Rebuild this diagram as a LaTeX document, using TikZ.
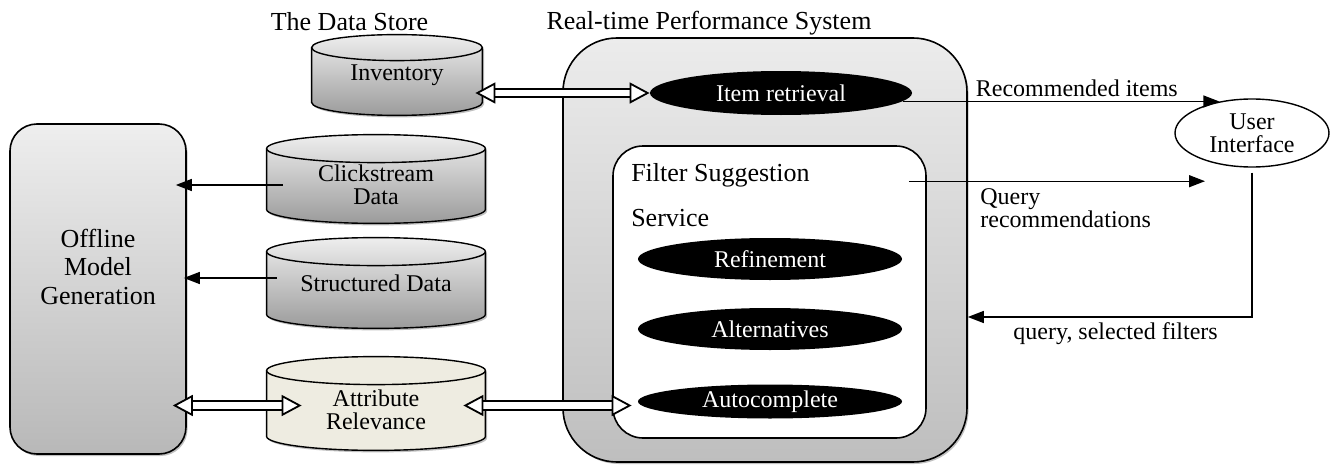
\documentclass[tikz,border=0pt]{standalone}
\usepackage{fontspec}
\setmainfont{Liberation Serif}
\usetikzlibrary{shapes.geometric,arrows.meta,positioning,calc,shadows,backgrounds}

\definecolor{storetop}{RGB}{238, 238, 238}
\definecolor{storebottom}{RGB}{155, 155, 155}
\definecolor{offlinetop}{RGB}{238, 238, 238}
\definecolor{offlinebottom}{RGB}{184, 184, 184}
\definecolor{systemtop}{RGB}{236, 236, 236}
\definecolor{systembottom}{RGB}{190, 190, 190}
\definecolor{relevancecolor}{RGB}{238, 236, 225}
\definecolor{shadowcolor}{RGB}{150, 150, 150}

\tikzset{
basetext/.style={
  font=\fontsize{12}{11.5}\selectfont,
  align=center
},
titletext/.style={
  font=\fontsize{13}{14.25}\selectfont,
  align=center
},
softshadow/.style={
  drop shadow={shadow xshift=0.8pt, shadow yshift=-1pt, fill=shadowcolor, opacity=0.6}
}
}

% contorno do cilindro em volta do corpo (#1 = nó, #2 = estilo, #3 = raio y)
\newcommand{\storeoutline}[3]{%
  \draw[#2] let \p1 = ($(#1.north east)-(#1.north west)$) in
    (#1.north west) -- (#1.south west)
    arc[start angle=180, end angle=360, x radius=0.5*\x1, y radius=#3]
    -- (#1.north east)
    arc[start angle=0, end angle=180, x radius=0.5*\x1, y radius=#3] -- cycle;
  \draw[line width=0.7pt] let \p1 = ($(#1.north east)-(#1.north west)$) in
    (#1.north west) arc[start angle=180, end angle=360, x radius=0.5*\x1, y radius=#3];
}

\begin{document}
\begin{tikzpicture}[
    x=0.5pt, y=-0.5pt,
    % Estilos dos blocos
    storebody/.style={
        rectangle,
        minimum width=109pt,
        minimum height=30pt,
        inner sep=0pt,
        basetext,
    },
    storeshade/.style={line width=0.7pt, top color=storetop, bottom color=storebottom, softshadow},
    relevanceshade/.style={line width=0.7pt, fill=relevancecolor, softshadow},
    serviceblock/.style={
        ellipse,
        fill=black,
        text=white,
        minimum width=132pt,
        minimum height=21pt,
        inner sep=0pt,
        basetext,
    },
    offlineblock/.style={
        draw, line width=0.8pt, rounded corners=13.5pt,
        top color=offlinetop, bottom color=offlinebottom,
        minimum width=88pt, minimum height=165pt, softshadow
    },
    systemblock/.style={
        draw, line width=0.8pt, rounded corners=27pt,
        top color=systemtop, bottom color=systembottom,
        minimum width=202pt, minimum height=212pt, softshadow
    },
    filterblock/.style={
        draw, line width=0.8pt, rounded corners=15pt, fill=white,
        minimum width=156.5pt, minimum height=146pt
    },
    uiblock/.style={ellipse, draw, line width=0.7pt, fill=white,
        minimum width=77pt, minimum height=34pt, inner sep=0pt, basetext},
    % Estilos das setas
    arrow/.style={-{Triangle[length=8pt, width=6pt]}, line width=0.7pt},
    dblarrow/.style={
        {Triangle[length=10pt, width=10.5pt, fill=white]}-{Triangle[length=10pt, width=10.5pt, fill=white]},
        double=white, double distance=3.4pt, line width=0.9pt
    },
]
\useasboundingbox (0,0) rectangle (1330,466);

% ============================================================================
% OFFLINE
% ============================================================================
\node[offlineblock] (offline) at (98,289) {};
\node[titletext, anchor=base] (offlinetext) at (98,304) {Offline\\Model\\Generation};

% ============================================================================
% DATA STORE
% ============================================================================
\node[storebody, minimum width=85pt, minimum height=27pt] (inventory) at (397,75) {Inventory};
\node[titletext, anchor=base] (storetitle) at (349.5,31) {The Data Store};
\node[storebody, text height=26pt] (click) at (376,179) {Clickstream\\Data};
\node[storebody, minimum height=31pt] (struct) at (376,283) {Structured Data};
\node[storebody, text height=26.5pt, minimum height=32.5pt] (attr) at (376,403.5) {Attribute\\Relevance};

\begin{scope}[on background layer]
  \storeoutline{inventory}{storeshade}{6.5pt}
  \storeoutline{click}{storeshade}{7pt}
  \storeoutline{struct}{storeshade}{7pt}
  \storeoutline{attr}{relevanceshade}{7pt}
\end{scope}

% ============================================================================
% REAL-TIME SYSTEM
% ============================================================================
\node[systemblock] (system) at (765,250) {};
\node[titletext, anchor=base] (systemtitle) at (709,30) {Real-time Performance System};
\node[serviceblock, minimum width=131pt, minimum height=22pt] (item) at (781,93) {Item retrieval};
\node[filterblock] (filter) at (769.5,292) {};
\node[titletext, align=left, anchor=base west, font=\fontsize{13}{22.5}\selectfont]
    (filtertitle) at ([xshift=6pt, yshift=-40.5pt]filter.north west) {Filter Suggestion\\Service};
\node[serviceblock] (refine) at (770,259) {Refinement};
\node[serviceblock] (alt) at (770,329) {Alternatives};
\node[serviceblock, minimum height=17pt] (auto) at (770,401.5) {Autocomplete};

% ============================================================================
% USER INTERFACE
% ============================================================================
\node[uiblock] (ui) at (1252,133) {User\\Interface};
\coordinate (qstart) at ([xshift=-9pt, yshift=-18pt]filter.north east);
\coordinate (qend) at (1205,182);

% ============================================================================
% SETAS
% ============================================================================
\draw[dblarrow] ([xshift=-3.5pt]inventory.east |- item.west) -- (item.west);
\draw[arrow] ([xshift=8pt, yshift=-3pt]click.west) -- ([xshift=-5.5pt, yshift=-3pt]offline.east |- click.west);
\draw[arrow] ([xshift=5pt, yshift=2.5pt]struct.west) -- ([xshift=-1.5pt, yshift=2.5pt]offline.east |- struct.west);
\draw[dblarrow] ([xshift=-7pt, yshift=-1pt]offline.east |- attr.west) -- ([xshift=17.5pt, yshift=-1pt]attr.west);
\draw[dblarrow] ([xshift=-11pt, yshift=-1pt]attr.east) -- ([xshift=-3pt, yshift=-1pt]attr.east -| auto.west);

\draw[arrow] (item.-4) -- (item.-4 -| ui.136)
    node[basetext, above, pos=0.55, inner sep=2pt] {Recommended items};
\draw[arrow] (qstart) -- (qstart -| qend);
\node[basetext, align=left, anchor=base west, inner sep=0pt] (qlabel) at (980,227) {Query\\recommendations};
\draw[arrow] ([yshift=-2.5pt]ui.south) |- ([yshift=-33.5pt]system.east)
    node[basetext, below, pos=0.74, inner sep=2.5pt] {query, selected filters};

\end{tikzpicture}
\end{document}
